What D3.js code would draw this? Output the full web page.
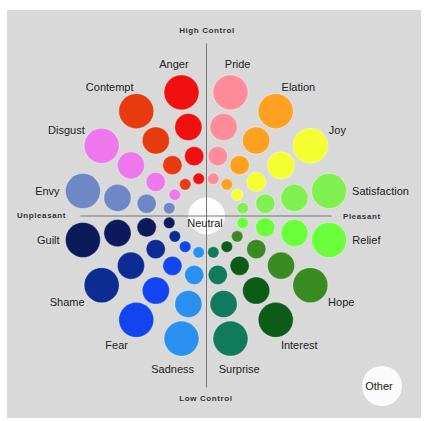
<!DOCTYPE html>
<html lang="en">
  <head>
    <meta charset="UTF-8" />
    <title>Emotion Wheel</title>
    <style>
      body {
        margin: 0;
        background: #fff;
      }
      svg {
        display: block;
        font-family: "Liberation Sans", Arial, sans-serif;
      }
      .label {
        font-size: 11px;
        fill: #222;
      }
      .axis-label {
        font-size: 8px;
        font-weight: bold;
        letter-spacing: 0.6px;
        fill: #333;
      }
    </style>
  </head>
  <body>
    <svg></svg>
    <script src="https://d3js.org/d3.v7.min.js"></script>
    <script>
      // spokes, clockwise from Pride (just right of "High Control")
      const emotions = ["Pride", "Elation", "Joy", "Satisfaction", "Relief", "Hope", "Interest", "Surprise",
        "Sadness", "Fear", "Shame", "Guilt", "Envy", "Disgust", "Contempt", "Anger"];
      const colors = ["#ff8c98", "#ffa020", "#f5ff30", "#80f050", "#6aff3a", "#3a8a22", "#0c5c18", "#107a5a",
        "#2a90f0", "#1244f0", "#0c2c94", "#0c1a5c", "#6f87c4", "#ee77ee", "#e83a10", "#f01010"];
      const intensities = [1, 2, 3, 4];
      const axisNames = ["High Control", "Pleasant", "Low Control", "Unpleasant"];
      const centerName = "Neutral";
      const otherName = "Other";

      const width = 427;
      const height = 421;
      const cx = 206;
      const cy = 215.5;

      const svg = d3.select("svg").attr("width", width).attr("height", height);
      svg.append("rect")
        .attr("x", 7).attr("y", 10)
        .attr("width", 414).attr("height", 408)
        .attr("fill", "#d9d9d9");

      const angle = d3.scaleLinear().domain([0, emotions.length]).range([78.75, 78.75 - 360]);
      const dist = d3.scalePow().exponent(1.5).domain([1, 4]).range([37.5, 125.5]);
      const size = d3.scaleLinear().domain([1, 4]).range([5.75, 17.5]);
      const rad = (d) => (d * Math.PI) / 180;

      const dots = [];
      emotions.forEach((e, i) => {
        intensities.forEach((lvl) => {
          const a = rad(angle(i));
          dots.push({
            emotion: e,
            color: colors[i],
            level: lvl,
            a: a,
            x: cx + dist(lvl) * Math.cos(a),
            y: cy - dist(lvl) * Math.sin(a),
            r: size(lvl),
          });
        });
      });

      svg.append("g")
        .selectAll("circle")
        .data(dots)
        .join("circle")
        .attr("cx", (d) => d.x)
        .attr("cy", (d) => d.y)
        .attr("r", (d) => d.r)
        .attr("fill", (d) => d.color)
        .attr("stroke", "rgba(255,255,255,0.3)")
        .attr("stroke-width", 1.2);

      // neutral centre
      svg.append("circle")
        .attr("cx", cx + 0.5).attr("cy", cy + 0.5).attr("r", 18.5)
        .attr("fill", "#fdfdfd");

      // axes
      const outer = dist(4);
      svg.append("line")
        .attr("x1", cx + 0.5).attr("x2", cx + 0.5)
        .attr("y1", cy - 172).attr("y2", cy + 172)
        .attr("stroke", "#777").attr("stroke-width", 1);
      svg.append("line")
        .attr("x1", cx - outer).attr("x2", cx + outer)
        .attr("y1", cy + 0.5).attr("y2", cy + 0.5)
        .attr("stroke", "#777").attr("stroke-width", 1);

      svg.append("text")
        .attr("class", "label")
        .attr("x", cx - 1).attr("y", cy + 8)
        .attr("dy", "0.35em")
        .attr("text-anchor", "middle")
        .text(centerName);

      // axis captions: top, right, bottom, left
      const axisPos = [
        { x: cx + 1, y: cy - 185, anchor: "middle" },
        { x: cx + 137, y: cy + 0.5, anchor: "start" },
        { x: cx, y: cy + 183, anchor: "middle" },
        { x: cx - 140, y: cy, anchor: "end" },
      ];
      svg.append("g")
        .selectAll("text")
        .data(axisNames)
        .join("text")
        .attr("class", "axis-label")
        .attr("x", (d, i) => axisPos[i].x)
        .attr("y", (d, i) => axisPos[i].y)
        .attr("dy", "0.35em")
        .attr("text-anchor", (d, i) => axisPos[i].anchor)
        .text((d) => d);

      // emotion names next to the biggest circle of each spoke
      const outerDots = dots.filter((d) => d.level === 4);
      const labels = svg.append("g")
        .selectAll("text")
        .data(outerDots)
        .join("text")
        .attr("class", "label")
        .attr("dy", "0.35em")
        .attr("text-anchor", "middle")
        .text((d) => d.emotion);

      labels.each(function (d) {
        const w = this.getComputedTextLength();
        const c = Math.cos(d.a);
        const s = Math.sin(d.a);
        const x = d.x + c * 24 + (c * w) / 2;
        let y = d.y;
        if (Math.abs(s) > 0.3) y = d.y - s * (s > 0 ? 28.5 : 31);
        d3.select(this).attr("x", x).attr("y", y);
      });

      // other
      svg.append("circle")
        .attr("cx", 382).attr("cy", 386).attr("r", 20)
        .attr("fill", "#fbfbfb");
      svg.append("text")
        .attr("class", "label")
        .attr("x", 379).attr("y", 386)
        .attr("dy", "0.35em")
        .attr("text-anchor", "middle")
        .text(otherName);
    </script>
  </body>
</html>
